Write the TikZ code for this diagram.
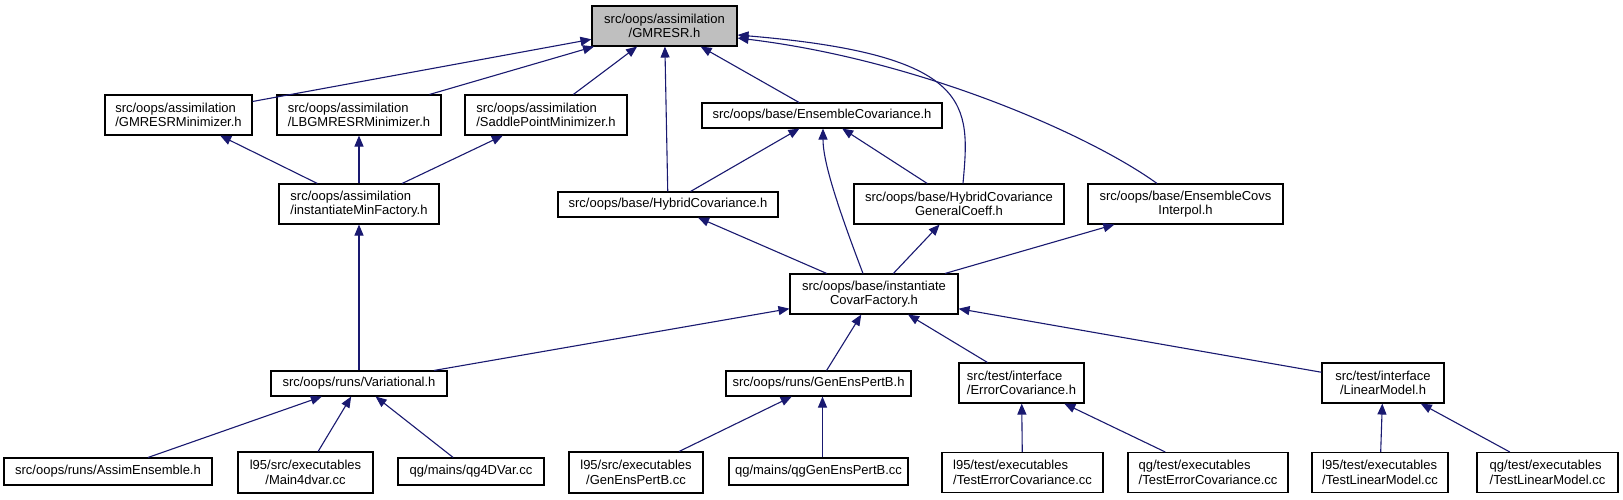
\documentclass[tikz,border=0pt]{standalone}
\usepackage{fontspec}
\setmainfont{Liberation Sans}
\usetikzlibrary{arrows.meta}
\definecolor{edgeblue}{HTML}{191970}
\definecolor{rootgray}{HTML}{BFBFBF}
\newcommand\dxfont{\fontsize{13}{14.5}\selectfont}
\begin{document}
\begin{tikzpicture}[x=1pt,y=-1pt,
  box/.style={draw=black, line width=1.1pt, fill=white, inner sep=0pt, font=\dxfont, align=center, minimum height=40pt},
  lbox/.style={box, align=left},
  sbox/.style={box, minimum height=25pt},
  edge/.style={draw=edgeblue, line width=1.1pt, -{Triangle[length=11pt,width=9pt]}}]
\fill[white] (0,0) rectangle (1623,499);
\useasboundingbox (0,0) rectangle (1623,499);
% row 1
\node[box, fill=rootgray, minimum width=145pt] (g) at (664.5,26) {src/oops/assimilation\\/GMRESR.h};
% row 2
\node[lbox, minimum width=147pt] (gm) at (178.5,115) {src/oops/assimilation\\/GMRESRMinimizer.h};
\node[lbox, minimum width=164pt] (lb) at (359,115) {src/oops/assimilation\\/LBGMRESRMinimizer.h};
\node[lbox, minimum width=162pt] (sp) at (546,115) {src/oops/assimilation\\/SaddlePointMinimizer.h};
\node[sbox, minimum width=240pt] (ec) at (822,115.5) {src/oops/base/EnsembleCovariance.h};
% row 3
\node[lbox, minimum width=160pt] (imf) at (359,204) {src/oops/assimilation\\/instantiateMinFactory.h};
\node[sbox, minimum width=220pt] (hc) at (668,204.5) {src/oops/base/HybridCovariance.h};
\node[box, minimum width=210pt] (hcgc) at (959,204) {src/oops/base/HybridCovariance\\GeneralCoeff.h};
\node[box, minimum width=195pt] (eci) at (1185.5,204) {src/oops/base/EnsembleCovs\\Interpol.h};
% row 4
\node[box, minimum width=168pt] (cf) at (874,294) {src/oops/base/instantiate\\CovarFactory.h};
% row 5
\node[sbox, minimum width=176pt] (var) at (359,383.5) {src/oops/runs/Variational.h};
\node[sbox, minimum width=185pt] (gep) at (818.5,383.5) {src/oops/runs/GenEnsPertB.h};
\node[lbox, minimum width=125pt] (err) at (1021.5,383) {src/test/interface\\/ErrorCovariance.h};
\node[box, minimum width=122pt] (lm) at (1383,383) {src/test/interface\\/LinearModel.h};
% row 6
\node[sbox, minimum height=27pt, minimum width=208pt] (ae) at (108,471.5) {src/oops/runs/AssimEnsemble.h};
\node[box, minimum height=41pt, minimum width=135pt] (m4) at (305.5,472.5) {l95/src/executables\\/Main4dvar.cc};
\node[sbox, minimum height=27pt, minimum width=146pt] (qg4) at (471,471.5) {qg/mains/qg4DVar.cc};
\node[box, minimum height=41pt, minimum width=134pt] (gepcc) at (636,472.5) {l95/src/executables\\/GenEnsPertB.cc};
\node[sbox, minimum height=27pt, minimum width=179pt] (qggep) at (818.5,471.5) {qg/mains/qgGenEnsPertB.cc};
\node[lbox, minimum width=161pt] (tec1) at (1022.5,472.5) {l95/test/executables\\/TestErrorCovariance.cc};
\node[lbox, minimum width=160pt] (tec2) at (1208,472.5) {qg/test/executables\\/TestErrorCovariance.cc};
\node[lbox, minimum width=136pt] (tlm1) at (1380,472.5) {l95/test/executables\\/TestLinearModel.cc};
\node[lbox, minimum width=141pt] (tlm2) at (1547.5,472.5) {qg/test/executables\\/TestLinearModel.cc};
% edges to GMRESR
\draw[edge] (gm) -- (g);
\draw[edge] (lb) -- (g);
\draw[edge] (sp) -- (g);
\draw[edge] (hc) -- (g);
\draw[edge] (ec) -- (g);
\draw[edge] ([xshift=4pt]hcgc.north) .. controls (970,105) and (975,55) .. ([yshift=-9pt]g.east);
\draw[edge] ([xshift=-28.5pt]eci.north) .. controls (1090,135) and (920,60) .. ([yshift=-12pt]g.east);
% row 2 children
\draw[edge] (imf) -- (gm);
\draw[edge] (imf) -- (lb);
\draw[edge] (imf) -- (sp);
\draw[edge] (hc) -- (ec);
\draw[edge] (hcgc) -- (ec);
\draw[edge] ([xshift=-11pt]cf.north) .. controls (835,200) and (823,160) .. ([xshift=1pt]ec.south);
% row 3 children
\draw[edge] (var) -- (imf);
\draw[edge] (cf) -- (hc);
\draw[edge] (cf) -- (hcgc);
\draw[edge] (cf) -- (eci);
% row 4 children
\draw[edge] (var) -- (cf);
\draw[edge] (gep) -- (cf);
\draw[edge] (err) -- (cf);
\draw[edge] (lm) -- (cf);
% row 5 children
\draw[edge] (ae) -- (var);
\draw[edge] (m4) -- (var);
\draw[edge] (qg4) -- (var);
\draw[edge] (gepcc) -- (gep);
\draw[edge] ([xshift=4pt]qggep.north) -- ([xshift=4pt]gep.south);
\draw[edge] (tec1) -- (err);
\draw[edge] (tec2) -- (err);
\draw[edge] (tlm1) -- (lm);
\draw[edge] (tlm2) -- (lm);
\end{tikzpicture}
\end{document}
